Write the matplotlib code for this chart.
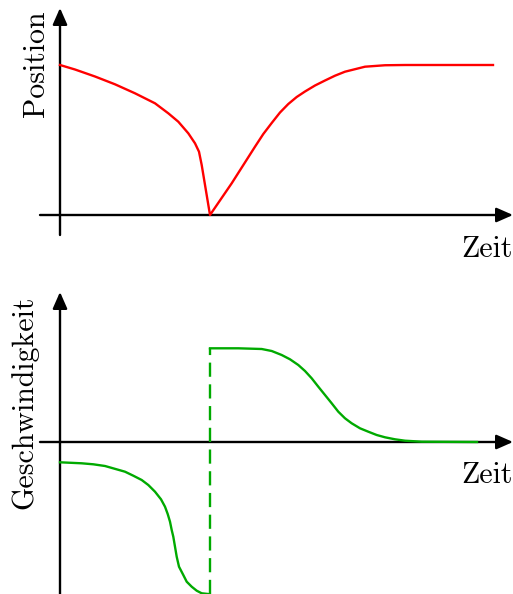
import matplotlib
matplotlib.use("Agg")
import matplotlib.pyplot as plt
from matplotlib.patches import FancyArrowPatch

plt.rcParams['font.family'] = ['cmr10', 'DejaVu Serif']
plt.rcParams['axes.formatter.use_mathtext'] = True

# Position over time (top panel)
pos_t = [0.0, 0.3, 0.7, 1.1, 1.5, 1.9, 2.166, 2.366, 2.566, 2.7, 2.78, 2.834, 3.0,
         3.434, 3.9, 4.066, 4.234, 4.4, 4.566, 4.734, 4.9, 5.1, 5.3, 5.5, 5.7, 6.1,
         6.5, 6.9, 8.66]
pos_y = [3.0, 2.91, 2.77, 2.614, 2.434, 2.234, 2.034, 1.866, 1.634, 1.434, 1.266, 1.0,
         0.0,
         0.634, 1.366, 1.62, 1.84, 2.05, 2.22, 2.36, 2.47, 2.59, 2.69, 2.786, 2.866,
         2.966, 2.995, 3.0, 3.0]

# Velocity before the reflection
vel1_t = [0.0, 0.434, 0.666, 0.9, 1.3, 1.466, 1.634, 1.766, 1.9, 2.02, 2.1, 2.154,
          2.2, 2.234, 2.266, 2.3, 2.334, 2.38, 2.466, 2.534, 2.634, 2.734, 2.834, 2.966]
vel1_v = [-0.406, -0.426, -0.446, -0.48, -0.594, -0.674, -0.76, -0.86, -0.994, -1.146,
          -1.294, -1.44, -1.594, -1.76, -1.894, -2.094, -2.294, -2.494, -2.66, -2.794,
          -2.894, -2.974, -3.026, -3.04]
# Velocity after the reflection
vel2_t = [3.0, 3.566, 4.034, 4.234, 4.434, 4.6, 4.766, 4.9, 5.034, 5.166, 5.3, 5.434,
          5.566, 5.7, 5.834, 6.0, 6.166, 6.334, 6.5, 6.7, 6.9, 7.234, 8.34]
vel2_v = [1.874, 1.874, 1.86, 1.82, 1.74, 1.654, 1.54, 1.42, 1.274, 1.106, 0.94, 0.774,
          0.606, 0.474, 0.374, 0.274, 0.206, 0.14, 0.094, 0.054, 0.026, 0.006, 0.0]
jump_t = 3.0

W, H = 513, 594
fig = plt.figure(figsize=(W / 100, H / 100), dpi=100)

LW = 1.7
RED = '#ff0000'
GREEN = '#00aa00'
FS = 21.5


def make_axes(top_px, bottom_px, origin_px):
    ox, oy = origin_px
    ax = fig.add_axes([0, 1 - bottom_px / H, 1, (bottom_px - top_px) / H])
    ax.set_xlim((0 - ox) / 50, (W - ox) / 50)
    ax.set_ylim((oy - bottom_px) / 50, (oy - top_px) / 50)
    ax.axis('off')
    return ax


def arrow(ax, p0, p1):
    a = FancyArrowPatch(p0, p1, arrowstyle='-|>,head_length=0.5,head_width=0.22',
                        mutation_scale=20, lw=LW, color='black',
                        shrinkA=0, shrinkB=0, zorder=1)
    ax.add_patch(a)


# Top panel
ax1 = make_axes(0, 262, (60, 215))
arrow(ax1, (-0.4, 0), (9.06, 0))
arrow(ax1, (0, -0.4), (0, 4.14))
ax1.plot(pos_t, pos_y, color=RED, lw=LW, solid_joinstyle='round', zorder=3)
ax1.text(-0.48, 3.03, 'Position', rotation=90, ha='center', va='center', fontsize=FS)
ax1.text(9.05, -0.42, 'Zeit', ha='right', va='top', fontsize=FS)

# Bottom panel
ax2 = make_axes(262, 594, (60, 442))
arrow(ax2, (-0.4, 0), (9.06, 0))
arrow(ax2, (0, -3.2), (0, 3.0))
ax2.plot(vel1_t, vel1_v, color=GREEN, lw=LW, solid_joinstyle='round', zorder=3)
ax2.plot(vel2_t, vel2_v, color=GREEN, lw=LW, solid_joinstyle='round', zorder=3)
ax2.plot([jump_t, jump_t], [vel1_v[-1], vel2_v[0]], color=GREEN, lw=LW,
         linestyle=(0, (6.0, 3.2)), zorder=3)
ax2.text(-0.72, 0.8, 'Geschwindigkeit', rotation=90, ha='center', va='center',
         fontsize=FS)
ax2.text(9.05, -0.4, 'Zeit', ha='right', va='top', fontsize=FS)

fig.savefig('out.png', dpi=100)
